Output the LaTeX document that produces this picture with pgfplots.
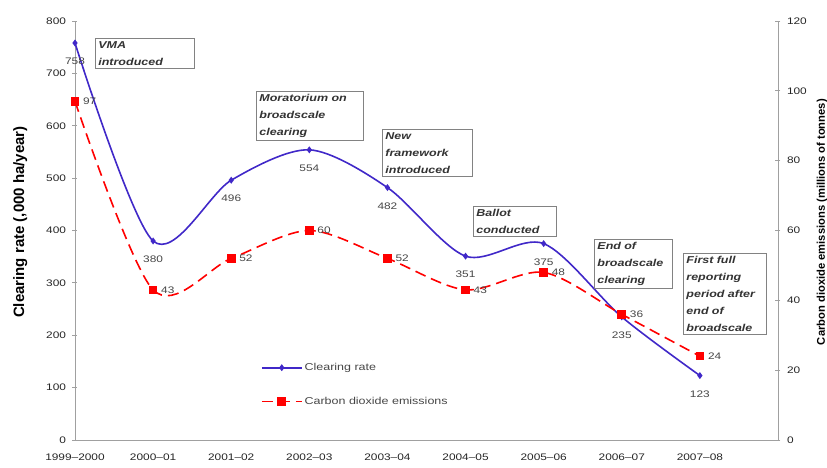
\documentclass[border=0pt]{standalone}
\usepackage{fontspec}
\setmainfont{Liberation Sans}[FakeStretch=1.25]
\newfontfamily\labelfont{Liberation Sans}
\usepackage{pgfplots}
\pgfplotsset{compat=1.18}
\definecolor{clr}{RGB}{64,40,200}
\definecolor{axgray}{RGB}{160,160,160}
\definecolor{boxgray}{RGB}{130,130,130}
\definecolor{lblgray}{RGB}{70,70,70}
\tikzset{annbox/.style={draw=boxgray, line width=0.8pt, fill=white, anchor=north west, inner sep=3pt,
    align=left, font=\fontsize{10}{17}\selectfont\bfseries\itshape, text=black!80}}
\begin{document}
\begin{tikzpicture}
\useasboundingbox (-75pt,-28pt) rectangle (752pt,440pt);
\pgfplotsset{
  base/.style={scale only axis, width=703pt, height=419pt, xmin=0, xmax=9, ymin=0,
    axis line style={-, draw=axgray, line width=0.8pt},
    tick style={draw=axgray, line width=0.8pt},
    ytick align=center, major tick length=5pt,
    ticklabel style={font=\fontsize{9.5}{11}\selectfont, text=black!85},
    /pgf/number format/assume math mode=true,
    clip=false,
  },
}
\begin{axis}[base,
  axis x line*=bottom, axis y line*=left,
  ymax=800, ytick={0,100,...,800},
  xtick={0,...,8},
  xticklabels={1999–2000,2000–01,2001–02,2002–03,2003–04,2004–05,2005–06,2006–07,2007–08},
  x tick style={draw=none},
  xticklabel style={yshift=-10pt},
  yticklabel style={xshift=-3pt},
  ylabel={\labelfont\bfseries Clearing rate (,000 ha/year)},
  ylabel style={at={(axis description cs:-0.078,0.52)}, anchor=center, font=\fontsize{15}{17}\selectfont},
  nodes near coords,
  every node near coord/.append style={anchor=north, yshift=-11pt, font=\fontsize{9.5}{11}\selectfont, text=lblgray},
]
\addplot[clr, line width=1.6pt, smooth, mark=diamond*, mark size=2.2pt] coordinates {
  (0,758) (1,380) (2,496) (3,554) (4,482) (5,351) (6,375) (7,235) (8,123)};
\end{axis}
\begin{axis}[base,
  axis x line=none, axis y line*=right,
  ymax=120, ytick={0,20,...,120},
  yticklabel style={xshift=3pt},
  ylabel={\labelfont\bfseries Carbon dioxide emissions (millions of tonnes)},
  ylabel style={at={(axis description cs:1.0626,0.52)}, anchor=center, font=\fontsize{11.2}{13}\selectfont},
  nodes near coords,
  every node near coord/.append style={anchor=west, xshift=4pt, font=\fontsize{9.5}{11}\selectfont, text=lblgray},
  legend style={at={(axis description cs:0.26,0.193)}, anchor=north west, draw=none, fill=none,
    font=\fontsize{10}{12}\selectfont, row sep=21pt, cells={anchor=west}, text=lblgray},
  legend image code/.code={\draw[mark repeat=2, mark phase=2, #1] plot coordinates {(0pt,0pt) (20pt,0pt) (40pt,0pt)};},
]
\addlegendimage{clr, line width=1.6pt, mark=diamond*, mark size=2.2pt}
\addlegendentry{Clearing rate}
\addplot[red, line width=1.6pt, smooth, dash pattern=on 11pt off 6pt, mark=square*, mark size=3.5pt, mark options={solid}] coordinates {
  (0,97) (1,43) (2,52) (3,60) (4,52) (5,43) (6,48) (7,36) (8,24)};
\addlegendentry{Carbon dioxide emissions}
\node[annbox, text width=93pt] at (rel axis cs:0.0284,0.9594) {VMA\\introduced};
\node[annbox, text width=101pt] at (rel axis cs:0.2575,0.833) {Moratorium on\\broadscale\\clearing};
\node[annbox, text width=84pt] at (rel axis cs:0.4367,0.7422) {New\\framework\\introduced};
\node[annbox, text width=77pt] at (rel axis cs:0.5661,0.5585) {Ballot\\conducted};
\node[annbox, text width=72pt] at (rel axis cs:0.7383,0.4797) {End of\\broadscale\\clearing};
\node[annbox, text width=77pt] at (rel axis cs:0.8649,0.4463) {First full\\reporting\\period after\\end of\\broadscale};
\end{axis}
\end{tikzpicture}
\end{document}
